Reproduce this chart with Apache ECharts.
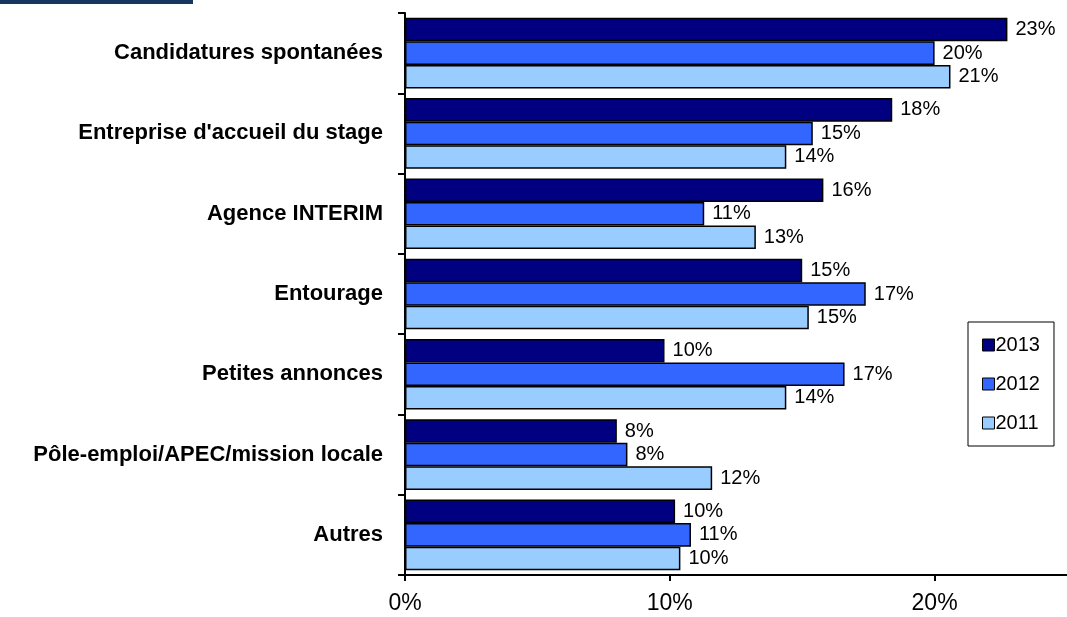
<!DOCTYPE html>
<html>
<head>
<meta charset="utf-8">
<script src="https://cdn.jsdelivr.net/npm/echarts@6/dist/echarts.min.js"></script>
<style>html,body{margin:0;padding:0;background:#fff}#c{width:1067px;height:617px}</style>
</head>
<body>
<div id="c"></div>
<script>
const categories = ["Candidatures spontanées", "Entreprise d'accueil du stage", "Agence INTERIM", "Entourage", "Petites annonces", "Pôle-emploi/APEC/mission locale", "Autres"];
const seriesNames = ["2013", "2012", "2011"];
const values2013 = [22.75, 18.4, 15.8, 15.0, 9.8, 8.0, 10.2];
const values2012 = [20.0, 15.4, 11.3, 17.4, 16.6, 8.4, 10.8];
const values2011 = [20.6, 14.4, 13.25, 15.25, 14.4, 11.6, 10.4];
const xTicks = [0, 10, 20];

const FONT = 'Arial, "Liberation Sans", sans-serif';
const colors = ['#000080', '#3366FF', '#99CCFF'];
const allValues = [values2013, values2012, values2011];

const chart = echarts.init(document.getElementById('c'), null, {renderer: 'canvas'});
chart.setOption({
  animation: false,
  backgroundColor: '#ffffff',
  textStyle: {fontFamily: FONT},
  graphic: [{
    type: 'rect', left: 0, top: 0,
    shape: {width: 193, height: 4},
    style: {fill: '#17375E'}
  }],
  legend: {
    orient: 'vertical',
    left: 968, top: 322,
    data: seriesNames,
    icon: 'rect',
    itemWidth: 12, itemHeight: 12,
    itemGap: 19,
    padding: [13, 14, 13, 14],
    borderColor: '#000', borderWidth: 1,
    backgroundColor: '#fff',
    textStyle: {fontSize: 20, color: '#000', fontFamily: FONT, padding: [0, 0, 0, -4]},
    itemStyle: {borderColor: '#000', borderWidth: 1}
  },
  grid: {left: 405, right: 0, top: 13, bottom: 42, containLabel: false},
  xAxis: {
    type: 'value', min: 0, max: 25, interval: 10,
    axisLine: {show: true, lineStyle: {color: '#000', width: 2}},
    axisTick: {show: true, length: 6, lineStyle: {color: '#000', width: 2}, customValues: xTicks},
    axisLabel: {formatter: '{value}%', fontSize: 23, color: '#000', margin: 17, fontFamily: FONT, customValues: xTicks},
    splitLine: {show: false}
  },
  yAxis: {
    type: 'category', inverse: true, data: categories,
    axisLine: {show: true, lineStyle: {color: '#000', width: 2}},
    axisTick: {show: true, length: 7, lineStyle: {color: '#000', width: 2}},
    axisLabel: {fontSize: 22, fontWeight: 'bold', color: '#000', margin: 22, fontFamily: FONT}
  },
  series: seriesNames.map((name, i) => ({
    name: name,
    type: 'bar',
    data: allValues[i],
    barGap: '0%',
    barCategoryGap: '12%',
    itemStyle: {color: colors[i], borderColor: '#000', borderWidth: 1.5},
    label: {
      show: true, position: 'right', distance: 8,
      fontSize: 20, color: '#000', fontFamily: FONT,
      formatter: p => Math.round(p.value) + '%'
    }
  }))
});
</script>
</body>
</html>
